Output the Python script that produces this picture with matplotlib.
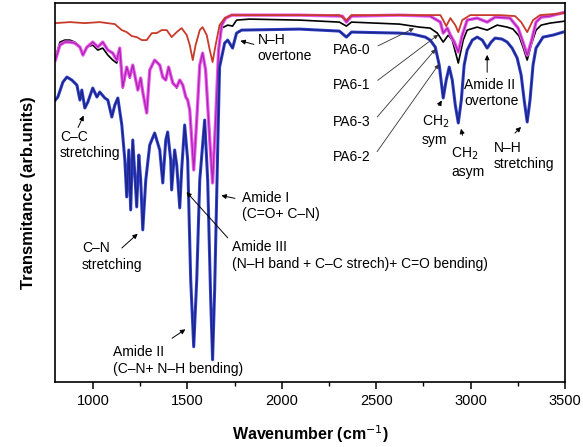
import matplotlib
matplotlib.use('Agg')
import matplotlib.pyplot as plt
import matplotlib.patheffects as pe
from matplotlib.ticker import MultipleLocator

plt.rcParams['font.family'] = ['Liberation Sans', 'DejaVu Sans']

# spectra: wavenumber (cm-1) and transmittance (arb. units)
wn_red = [800, 877, 956, 1035, 1115, 1152, 1178, 1205, 1231, 1258, 1284, 1311, 1337,
          1363, 1390, 1416, 1443, 1469, 1496, 1512, 1528, 1543, 1565, 1580, 1602, 1618,
          1633, 1649, 1670, 1697, 1734, 2094, 2305, 2342, 2369, 2623, 2840, 2855, 2871,
          2893, 2919, 2935, 2956, 2998, 3157, 3236, 3268, 3300, 3331, 3368, 3500]
t_red = [359, 360, 359, 360, 358, 352, 350, 346, 345, 342, 342, 349, 349,
         352, 352, 345, 350, 354, 347, 337, 322, 337, 352, 355, 347, 332,
         320, 337, 357, 364, 367, 367, 367, 362, 367, 367, 367, 362, 356,
         364, 357, 350, 362, 367, 367, 366, 360, 350, 362, 367, 369]

wn_black = [800, 824, 850, 877, 903, 930, 946, 967, 998, 1025, 1051, 1078, 1104, 1125,
            1141, 1157, 1178, 1194, 1210, 1226, 1237, 1252, 1263, 1284, 1300, 1326,
            1353, 1369, 1385, 1400, 1422, 1443, 1459, 1475, 1491, 1501, 1512, 1533,
            1549, 1565, 1580, 1596, 1618, 1633, 1649, 1665, 1681, 1713, 1739, 1760,
            1829, 2094, 2305, 2342, 2369, 2623, 2729, 2786, 2824, 2855, 2882, 2903,
            2935, 2961, 2982, 3035, 3088, 3141, 3194, 3225, 3257, 3278, 3300, 3321,
            3347, 3374, 3421, 3500]
t_black = [324, 340, 342, 342, 340, 335, 327, 335, 337, 332, 334, 327, 322, 319,
           330, 294, 314, 304, 316, 302, 292, 304, 290, 269, 312, 322,
           317, 305, 302, 315, 299, 294, 302, 297, 285, 282, 272, 214,
           262, 317, 329, 312, 242, 202, 262, 332, 354, 357, 356, 362,
           363, 362, 360, 356, 360, 358, 355, 354, 349, 340, 347, 342,
           319, 342, 352, 355, 352, 357, 355, 353, 346, 335, 322, 337,
           352, 357, 359, 361]

wn_mag = [800, 824, 850, 877, 903, 930, 946, 967, 998, 1025, 1051, 1078, 1104, 1125,
          1141, 1157, 1178, 1194, 1210, 1226, 1237, 1252, 1263, 1284, 1300, 1326,
          1353, 1369, 1385, 1400, 1422, 1443, 1459, 1475, 1491, 1501, 1512, 1533,
          1549, 1565, 1580, 1596, 1618, 1633, 1649, 1665, 1681, 1702, 1734, 2094,
          2321, 2342, 2369, 2623, 2786, 2840, 2855, 2877, 2893, 2914, 2935, 2956,
          2982, 3035, 3088, 3130, 3209, 3252, 3278, 3300, 3321, 3347, 3374, 3421, 3500]
t_mag = [322, 337, 340, 340, 339, 335, 327, 335, 340, 335, 340, 332, 329, 322,
         334, 295, 315, 305, 317, 302, 292, 304, 290, 269, 312, 322,
         317, 305, 302, 315, 299, 295, 302, 297, 285, 282, 272, 212,
         262, 317, 329, 312, 242, 199, 262, 332, 357, 364, 367, 367,
         366, 360, 366, 367, 366, 360, 349, 354, 347, 340, 330, 347,
         362, 364, 360, 365, 364, 354, 340, 327, 340, 360, 365, 366, 370]

wn_blue = [800, 813, 840, 861, 887, 914, 930, 940, 956, 972, 998, 1020, 1035, 1062,
           1078, 1099, 1115, 1131, 1152, 1168, 1178, 1189, 1199, 1210, 1221, 1231,
           1242, 1252, 1263, 1279, 1300, 1326, 1353, 1369, 1385, 1395, 1411, 1416,
           1432, 1443, 1459, 1469, 1485, 1501, 1517, 1533, 1549, 1565, 1591, 1607,
           1623, 1633, 1644, 1660, 1670, 1697, 1713, 1739, 1760, 1787, 2094, 2305,
           2342, 2369, 2623, 2692, 2760, 2786, 2813, 2834, 2855, 2871, 2887, 2903,
           2919, 2935, 2951, 2966, 2982, 3009, 3035, 3062, 3088, 3109, 3130, 3167,
           3194, 3220, 3247, 3268, 3284, 3300, 3315, 3331, 3347, 3384, 3437, 3490]
t_blue = [282, 285, 300, 305, 302, 297, 282, 292, 274, 280, 294, 285, 290, 284,
          282, 265, 277, 284, 257, 222, 185, 232, 172, 242, 207, 175,
          227, 202, 152, 202, 237, 249, 232, 199, 242, 250, 222, 192,
          232, 217, 174, 212, 257, 222, 102, 35, 102, 202, 262, 202,
          82, 22, 92, 232, 315, 339, 342, 334, 349, 352, 353, 351,
          345, 350, 349, 348, 345, 342, 335, 317, 284, 302, 315, 302,
          277, 259, 282, 317, 332, 342, 345, 342, 334, 340, 344, 343,
          340, 334, 324, 307, 282, 260, 282, 317, 334, 345, 347, 350]

xticks = [1000, 1500, 2000, 2500, 3000, 3500]

fig = plt.figure(figsize=(5.83, 4.47), dpi=100)
ax = fig.add_axes([0.095, 0.146, 0.874, 0.847])

ax.plot(wn_black, t_black, color='black', lw=1.2)
ax.plot(wn_mag, t_mag, color='#a825b0', lw=0.9,
        path_effects=[pe.Stroke(linewidth=2.4, foreground='#ee5aee'), pe.Normal()])
ax.plot(wn_red, t_red, color='#c83a2a', lw=1.3)
ax.plot(wn_blue, t_blue, color='#1c2488', lw=1.0,
        path_effects=[pe.Stroke(linewidth=2.2, foreground='#3546d0'), pe.Normal()])

ax.set_xlim(800, 3500)
ax.set_ylim(0, 379)
ax.set_xticks(xticks)
ax.xaxis.set_minor_locator(MultipleLocator(250))
ax.set_yticks([])
ax.tick_params(axis='x', direction='out', length=5, width=1.1, labelsize=10.5)
ax.tick_params(axis='x', which='minor', direction='out', length=3, width=1.0)
for s in ax.spines.values():
    s.set_linewidth(1.2)

ax.set_xlabel('Wavenumber (cm$^{-1}$)', fontsize=11.5, fontweight='bold', labelpad=11)
ax.set_ylabel('Transmitance (arb.units)', fontsize=12, fontweight='bold', labelpad=14)

fs = 10
arrow = dict(arrowstyle='-|>', color='black', lw=0.7, mutation_scale=7)

def label(x, y, s, tail, head, ha='left'):
    ax.text(x, y, s, ha=ha, va='center', fontsize=fs, linespacing=1.25)
    ax.annotate('', xy=head, xytext=tail, arrowprops=arrow)

label(1871, 334, 'N\u2013H\novertone', (1866, 337), (1766, 342))
label(824, 237, 'C\u2013C\nstretching', (914, 252), (956, 269))
label(940, 125, 'C\u2013N\nstretching', (1141, 132), (1247, 150))
label(1787, 176, 'Amide I\n(C=O+ C\u2013N)', (1766, 183), (1665, 187))
label(1734, 126, 'Amide III\n(N\u2013H band + C\u2013C strech)+ C=O bending)',
      (1723, 142), (1485, 192))
label(1104, 21, 'Amide II\n(C\u2013N+ N\u2013H bending)', (1406, 42), (1501, 54))
label(2740, 252, 'CH$_2$\nsym', (2824, 274), (2855, 284))
label(2898, 220, 'CH$_2$\nasym', (2961, 244), (2946, 256))
label(2966, 289, 'Amide II\novertone', (3088, 307), (3088, 330))
label(3121, 226, 'N\u2013H\nstretching', (3225, 247), (3278, 257))

pa_names = ['PA6-0', 'PA6-1', 'PA6-3', 'PA6-2']
pa_text_y = [332, 297, 260, 225]
pa_heads = [(2713, 355), (2840, 349), (2824, 335), (2840, 320)]
for name, ty, hd in zip(pa_names, pa_text_y, pa_heads):
    ax.text(2369, ty, name, ha='center', va='center', fontsize=fs)
    ax.annotate('', xy=hd, xytext=(2496, ty + 3),
                arrowprops=dict(arrowstyle='-|>', color='#333333', lw=0.6, mutation_scale=6))

fig.savefig('out.png', dpi=100)
